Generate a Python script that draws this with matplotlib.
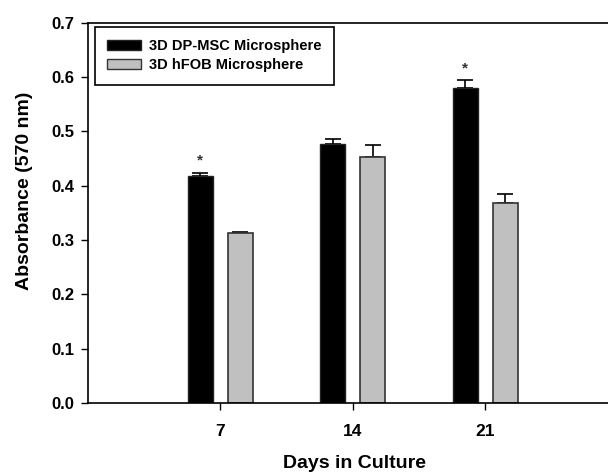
import matplotlib.pyplot as plt
from matplotlib.patches import Patch

plt.rcParams['font.family'] = ['Liberation Sans', 'DejaVu Sans']
plt.rcParams['font.weight'] = 'bold'

days = [7, 14, 21]
dpmsc = [0.417, 0.477, 0.579]
dpmsc_err = [0.007, 0.008, 0.015]
hfob = [0.313, 0.453, 0.368]
hfob_err = [0.002, 0.021, 0.016]
labels = ['3D DP-MSC Microsphere', '3D hFOB Microsphere']
stars = [True, False, True]

fig = plt.figure(figsize=(6.08, 4.74), dpi=100)
ax = fig.add_axes([0.1447, 0.1498, 0.8553, 0.8024])

w = 1.32
off = 1.06
xb = [d - off for d in days]
xg = [d + off for d in days]
ax.bar(xb, dpmsc, width=w, color='black', edgecolor='#222222', linewidth=1, zorder=2)
ax.bar(xg, hfob, width=w, color='#c0c0c0', edgecolor='#333333', linewidth=1.2, zorder=2)
ax.errorbar(xb, dpmsc, yerr=[[0] * 3, dpmsc_err], fmt='none', ecolor='black',
            elinewidth=1.2, capsize=5.5, capthick=1.2, zorder=1)
ax.errorbar(xg, hfob, yerr=[[0] * 3, hfob_err], fmt='none', ecolor='black',
            elinewidth=1.2, capsize=5.5, capthick=1.2, zorder=1)

for x, v, e, s in zip(xb, dpmsc, dpmsc_err, stars):
    if s:
        ax.text(x, v + e + 0.022, '*', ha='center', va='center', fontsize=11, color='#333333')

ax.set_xlim(0, 27.5)
ax.set_ylim(0, 0.7)
ax.set_xticks(days)
ax.set_xticklabels([str(d) for d in days])
ax.set_yticks([0, 0.1, 0.2, 0.3, 0.4, 0.5, 0.6, 0.7])
ax.set_yticklabels(['0.0', '0.1', '0.2', '0.3', '0.4', '0.5', '0.6', '0.7'])
ax.tick_params(axis='both', direction='out', length=5, width=1)
ax.tick_params(axis='y', labelsize=12, pad=5)
ax.tick_params(axis='x', labelsize=12.5, pad=10)
ax.spines['right'].set_visible(False)
for s in ['left', 'top', 'bottom']:
    ax.spines[s].set_linewidth(1.2)

ax.set_ylabel('Absorbance (570 nm)', fontsize=14, fontweight='bold')
ax.yaxis.set_label_coords(-0.106, 0.558)
ax.set_xlabel('Days in Culture', fontsize=14, fontweight='bold')
ax.xaxis.set_label_coords(0.513, -0.137)

handles = [Patch(facecolor='black', edgecolor='#222222'),
           Patch(facecolor='#c0c0c0', edgecolor='#333333')]
leg = ax.legend(handles, labels, loc='upper left', bbox_to_anchor=(0.0135, 0.9895),
                fancybox=False, edgecolor='black', framealpha=1, fontsize=10.5,
                handlelength=2.3, handleheight=0.73, handletextpad=0.55,
                borderpad=0.85, labelspacing=0.35, borderaxespad=0)
leg.get_frame().set_linewidth(1.2)
for t in leg.get_texts():
    t.set_fontweight('bold')

fig.savefig('out.png', dpi=100)
